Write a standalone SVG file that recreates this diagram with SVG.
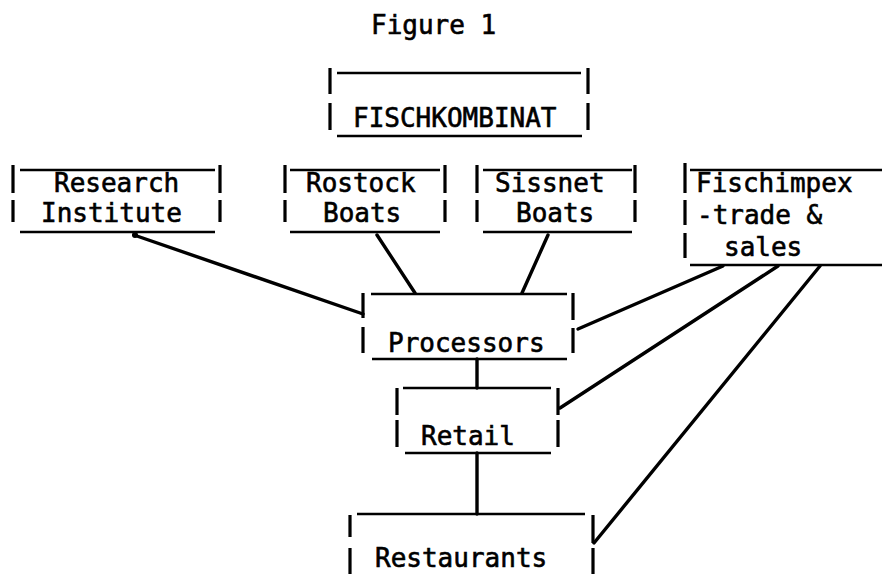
<svg xmlns="http://www.w3.org/2000/svg" width="882" height="574" viewBox="0 0 882 574">
<style>
text{font-family:"DejaVu Sans Mono","Liberation Mono",monospace;font-size:26px;fill:#000;stroke:#000;stroke-width:0.6}
.h{stroke:#000;stroke-width:2.5;fill:none}
.v{stroke:#000;stroke-width:3.2;fill:none}
.c{stroke:#000;stroke-width:3.4;fill:none;stroke-linecap:round}
</style>
<rect width="882" height="574" fill="#fff"/>
<text x="371" y="34">Figure 1</text>
<g id="fischkombinat">
<path class="h" d="M337 73H581M337 136H582"/>
<path class="v" d="M330 68V94M330 103V130M588 68V94M588 103V130"/>
<text x="353" y="127">FISCHKOMBINAT</text>
</g>
<g id="research">
<path class="h" d="M20 170H215M20 232H215"/>
<path class="v" d="M13 165V193M13 200V222M220 165V193M220 200V222"/>
<text x="54" y="192">Research</text>
<text x="41" y="222">Institute</text>
</g>
<g id="rostock">
<path class="h" d="M290 170H440M290 232H440"/>
<path class="v" d="M285 165V193M285 200V222M445 165V193M445 200V222"/>
<text x="306" y="192">Rostock</text>
<text x="323" y="222">Boats</text>
</g>
<g id="sissnet">
<path class="h" d="M483 170H632M483 232H632"/>
<path class="v" d="M477 165V193M477 200V222M635 165V193M635 200V222"/>
<text x="495" y="192">Sissnet</text>
<text x="516" y="222">Boats</text>
</g>
<g id="fischimpex">
<path class="h" d="M690 170H882M690 265H882"/>
<path class="v" d="M685 163V193M685 200V225M685 233V258"/>
<text x="696" y="192">Fischimpex</text>
<text x="697" y="224">-trade &amp;</text>
<text x="724" y="256">sales</text>
</g>
<g id="processors">
<path class="h" d="M371 294H567M372 359H567"/>
<path class="v" d="M363 293V318M363 327V353M573 293V320M573 328V353"/>
<text x="388" y="352">Processors</text>
</g>
<g id="retail">
<path class="h" d="M403 388H551M405 453H551"/>
<path class="v" d="M397 388V415M397 420V447M558 388V415M558 420V447"/>
<text x="421" y="445">Retail</text>
</g>
<g id="restaurants">
<path class="h" d="M357 514H585"/>
<path class="v" d="M350 515V537M350 548V574M593 515V543M593 548V574"/>
<text x="375" y="567">Restaurants</text>
</g>
<g id="connectors">
<path class="c" d="M134 235L363 314"/>
<circle cx="135" cy="235" r="3"/>
<path class="c" d="M377 235L415 293"/>
<path class="c" d="M548 235L522 293"/>
<path class="c" d="M723 266L578 329"/>
<path class="c" d="M778 266L560 408"/>
<path class="c" d="M820 266L594 543"/>
<path class="c" d="M477 359V388M477 453V514"/>
</g>
</svg>
